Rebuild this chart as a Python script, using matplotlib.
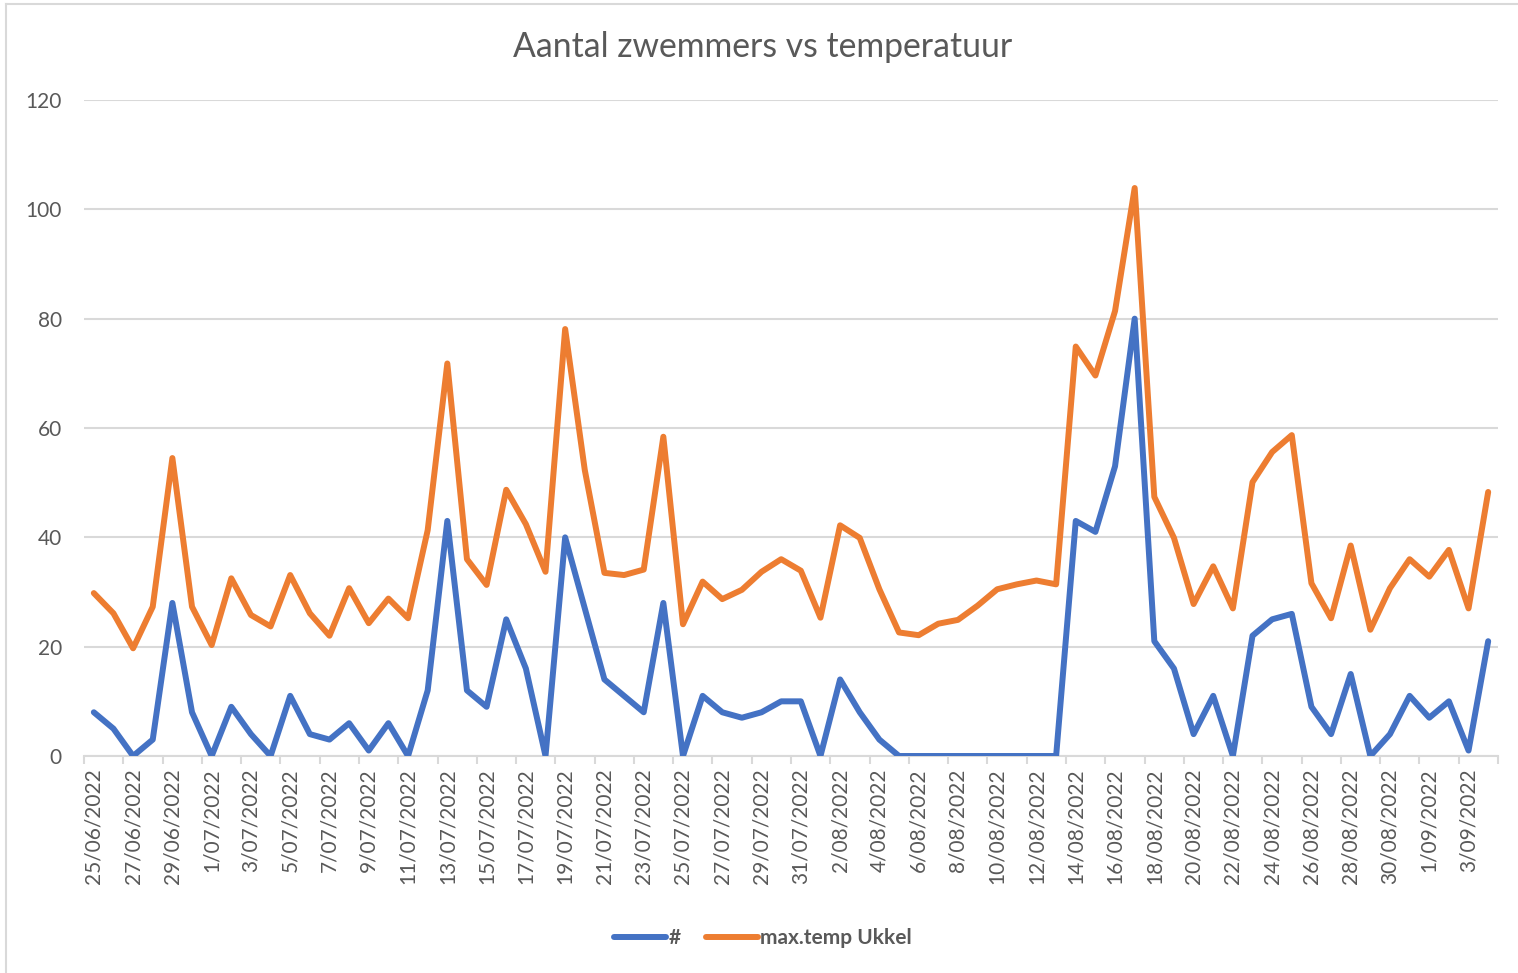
import matplotlib
matplotlib.use("Agg")
import matplotlib.pyplot as plt
from matplotlib.lines import Line2D
import numpy as np

dates = ["25/06/2022", "26/06/2022", "27/06/2022", "28/06/2022", "29/06/2022", "30/06/2022",
         "1/07/2022", "2/07/2022", "3/07/2022", "4/07/2022", "5/07/2022", "6/07/2022",
         "7/07/2022", "8/07/2022", "9/07/2022", "10/07/2022", "11/07/2022", "12/07/2022",
         "13/07/2022", "14/07/2022", "15/07/2022", "16/07/2022", "17/07/2022", "18/07/2022",
         "19/07/2022", "20/07/2022", "21/07/2022", "22/07/2022", "23/07/2022", "24/07/2022",
         "25/07/2022", "26/07/2022", "27/07/2022", "28/07/2022", "29/07/2022", "30/07/2022",
         "31/07/2022", "1/08/2022", "2/08/2022", "3/08/2022", "4/08/2022", "5/08/2022",
         "6/08/2022", "7/08/2022", "8/08/2022", "9/08/2022", "10/08/2022", "11/08/2022",
         "12/08/2022", "13/08/2022", "14/08/2022", "15/08/2022", "16/08/2022", "17/08/2022",
         "18/08/2022", "19/08/2022", "20/08/2022", "21/08/2022", "22/08/2022", "23/08/2022",
         "24/08/2022", "25/08/2022", "26/08/2022", "27/08/2022", "28/08/2022", "29/08/2022",
         "30/08/2022", "31/08/2022", "1/09/2022", "2/09/2022", "3/09/2022", "4/09/2022"]

swimmers = [8, 5, 0, 3, 28, 8, 0, 9, 4, 0, 11, 4,
            3, 6, 1, 6, 0, 12, 43, 12, 9, 25, 16, 0,
            40, 27, 14, 11, 8, 28, 0, 11, 8, 7, 8, 10,
            10, 0, 14, 8, 3, 0, 0, 0, 0, 0, 0, 0,
            0, 0, 43, 41, 53, 80, 21, 16, 4, 11, 0, 22,
            25, 26, 9, 4, 15, 0, 4, 11, 7, 10, 1, 21]

max_temp = [29.8, 26.1, 19.7, 27.3, 54.5, 27.3, 20.3, 32.5, 25.8, 23.7, 33.1, 26.1,
            22.0, 30.7, 24.3, 28.8, 25.2, 41.3, 71.8, 36.0, 31.3, 48.7, 42.4, 33.7,
            78.1, 52.3, 33.5, 33.1, 34.1, 58.4, 24.1, 31.9, 28.7, 30.4, 33.7, 36.0,
            33.9, 25.3, 42.2, 39.9, 30.5, 22.6, 22.1, 24.2, 24.9, 27.5, 30.5, 31.4,
            32.1, 31.4, 74.9, 69.6, 81.4, 103.9, 47.4, 39.9, 27.8, 34.7, 27.0, 50.1,
            55.6, 58.7, 31.6, 25.2, 38.5, 23.1, 30.7, 36.0, 32.8, 37.7, 27.0, 48.3]

series_names = ["#", "max.temp Ukkel"]
y_ticks = [0, 20, 40, 60, 80, 100, 120]
title = "Aantal zwemmers vs temperatuur"

BLUE = "#4472C4"
ORANGE = "#ED7D31"
TXT = "#595959"
GRID = "#D9D9D9"
FONT = ["Lato", "DejaVu Sans"]
LW = 4.3

W, H = 1518, 973
fig = plt.figure(figsize=(W / 100, H / 100), dpi=100)
plt.rcParams["font.family"] = FONT

# chart border (top and left edges visible)
fig.add_artist(Line2D([6 / W, 1.0], [(H - 4) / H, (H - 4) / H], transform=fig.transFigure,
                      color=GRID, linewidth=1.5))
fig.add_artist(Line2D([6 / W, 6 / W], [0.0, (H - 4) / H], transform=fig.transFigure,
                      color=GRID, linewidth=1.5))

ax = fig.add_axes([84 / W, (H - 756) / H, (1498 - 84) / W, (756 - 100) / H])
x = np.arange(len(dates))
ax.plot(x, swimmers, color=BLUE, linewidth=LW, solid_joinstyle="round", solid_capstyle="round",
        label=series_names[0], zorder=3)
ax.plot(x, max_temp, color=ORANGE, linewidth=LW, solid_joinstyle="round", solid_capstyle="round",
        label=series_names[1], zorder=3)

ax.set_xlim(-0.5, len(dates) - 0.5)
ax.set_ylim(0, 120)
ax.set_yticks(y_ticks)
ax.set_yticklabels([str(v) for v in y_ticks])
ax.yaxis.grid(True, color=GRID, linewidth=1.5)
ax.set_axisbelow(True)
for s in ["left", "right", "top"]:
    ax.spines[s].set_visible(False)
ax.spines["bottom"].set_color(GRID)
ax.spines["bottom"].set_linewidth(1.5)
ax.tick_params(axis="y", length=0, pad=16, labelsize=15, labelcolor=TXT)

ax.set_xticks(x[::2])
ax.set_xticklabels(dates[::2], rotation=90, va="top", ha="center")
ax.set_xticks(np.arange(-0.5, len(dates), 2), minor=True)
ax.tick_params(axis="x", which="major", length=0, pad=9, labelsize=15, labelcolor=TXT)
ax.tick_params(axis="x", which="minor", length=6, width=1.5, color=GRID, direction="out")

t = fig.text(763 / W, (H - 47) / H, title, ha="center", va="center", fontsize=20, color=TXT)
fig.canvas.draw()
bb = t.get_window_extent()
t.set_fontsize(20 * 500 / bb.width)

leg = fig.legend(loc="center", bbox_to_anchor=(763 / W, (H - 938) / H), ncol=2, frameon=False,
                 prop={"family": FONT, "weight": "bold", "size": 15}, handlelength=2.5,
                 handletextpad=0.1, columnspacing=1.2)
for txt in leg.get_texts():
    txt.set_color(TXT)
for ln in leg.get_lines():
    ln.set_linewidth(LW)
    ln.set_solid_capstyle("round")

fig.savefig("out.png", dpi=100)
